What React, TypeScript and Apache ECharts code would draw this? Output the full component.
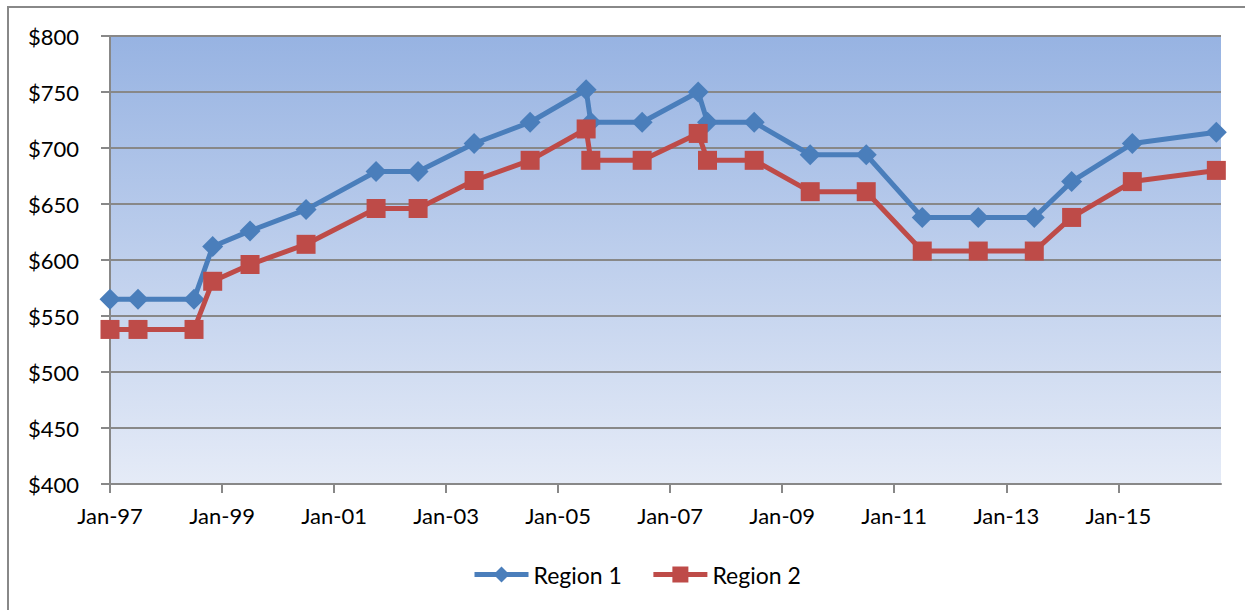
import React, { useEffect, useRef } from "react";
import * as echarts from "echarts";

const dates = [
  "1997-01", "1997-07", "1998-07", "1998-11", "1999-07", "2000-07", "2001-10", "2002-07",
  "2003-07", "2004-07", "2005-07", "2005-08", "2006-07", "2007-07", "2007-09", "2008-07",
  "2009-07", "2010-07", "2011-07", "2012-07", "2013-07", "2014-03", "2015-04", "2016-10",
];
const region1 = [
  565, 565, 565, 612, 626, 645, 679, 679, 704, 723, 752, 723,
  723, 750, 723, 723, 694, 694, 638, 638, 638, 670, 704, 714,
];
const region2 = [
  538, 538, 538, 581, 596, 614, 646, 646, 671, 689, 717, 689,
  689, 713, 689, 689, 661, 661, 608, 608, 608, 638, 670, 680,
];
const seriesNames = ["Region 1", "Region 2"];
const startYear = 1997;

const toMonths = (d: string) => {
  const [y, m] = d.split("-").map(Number);
  return (y - startYear) * 12 + (m - 1);
};

export default function App() {
  const ref = useRef<HTMLDivElement>(null);
  useEffect(() => {
    if (!ref.current) return;
    const chart = echarts.init(ref.current, null, { renderer: "svg" });
    const font = "Lato, 'Open Sans', sans-serif";
    chart.setOption({
      animation: false,
      textStyle: { fontFamily: font },
      graphic: [
        {
          type: "rect",
          shape: { x: 8, y: 7, width: 1250, height: 620 },
          style: { fill: "none", stroke: "#888888", lineWidth: 2 },
          z: 0,
        },
      ],
      grid: {
        left: 110,
        top: 36,
        right: 24,
        bottom: 126,
        show: true,
        borderWidth: 0,
        containLabel: false,
        outerBoundsMode: "none",
        backgroundColor: new echarts.graphic.LinearGradient(0, 0, 0, 1, [
          { offset: 0, color: "#97B3E2" },
          { offset: 1, color: "#E5EBF7" },
        ]),
      },
      legend: {
        left: 467,
        top: 558,
        itemWidth: 54,
        itemHeight: 20,
        itemGap: 29,
        lineStyle: { width: 5 },
        textStyle: { fontSize: 23, color: "#000", fontFamily: font },
        data: seriesNames,
      },
      xAxis: {
        type: "value",
        min: 0,
        max: 238,
        interval: 24,
        axisLine: { show: true, lineStyle: { color: "#888888", width: 2 } },
        axisTick: { show: true, length: 9, lineStyle: { color: "#888888", width: 2 } },
        splitLine: { show: false },
        axisLabel: {
          fontSize: 22,
          color: "#000",
          margin: 20,
          fontFamily: font,
          showMaxLabel: false,
          formatter: (v: number) => {
            const y = startYear + Math.round(v / 12);
            return "Jan-" + String(y % 100).padStart(2, "0");
          },
        },
      },
      yAxis: {
        type: "value",
        min: 400,
        max: 800,
        interval: 50,
        axisLine: { show: true, lineStyle: { color: "#888888", width: 2 } },
        axisTick: { show: true, length: 9, lineStyle: { color: "#888888", width: 2 } },
        splitLine: { show: true, lineStyle: { color: "#888888", width: 2 } },
        axisLabel: {
          fontSize: 22,
          color: "#000",
          margin: 31,
          fontFamily: font,
          formatter: (v: number) => "$" + v,
        },
      },
      series: [
        {
          name: seriesNames[0],
          type: "line",
          data: dates.map((d, i) => [toMonths(d), region1[i]]),
          symbol: "diamond",
          symbolSize: 21,
          itemStyle: { color: "#4A7EBB" },
          lineStyle: { color: "#4A7EBB", width: 5 },
          z: 3,
        },
        {
          name: seriesNames[1],
          type: "line",
          data: dates.map((d, i) => [toMonths(d), region2[i]]),
          symbol: "rect",
          symbolSize: 19,
          itemStyle: { color: "#BE4B48" },
          lineStyle: { color: "#BE4B48", width: 5 },
          z: 4,
        },
      ],
    });
    return () => chart.dispose();
  }, []);
  return (
    <div
      ref={ref}
      style={{ position: "absolute", left: 0, top: 0, width: 1245, height: 610, background: "#fff" }}
    />
  );
}
